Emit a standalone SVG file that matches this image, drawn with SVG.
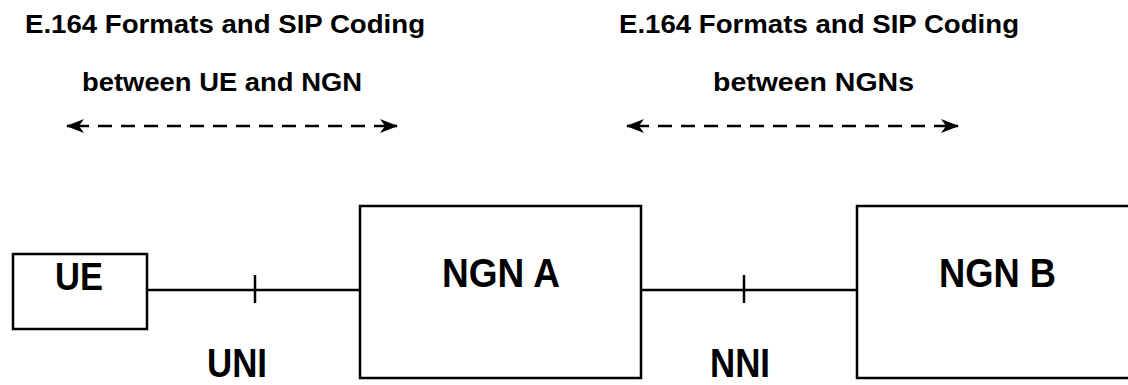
<svg xmlns="http://www.w3.org/2000/svg" width="1128" height="385" viewBox="0 0 1128 385">
<style>
.box{fill:#fff;stroke:#000;stroke-width:2.5}
.ln{stroke:#000;stroke-width:2.5;fill:none}
.dash{stroke:#000;stroke-width:2.5;fill:none;stroke-dasharray:14 9}
.t{font-family:"Liberation Sans",Arial,sans-serif;font-weight:bold;fill:#000}
.title{font-size:25px}
.lbl{font-size:40px}
</style>
<defs>
<marker id="ah" viewBox="0 0 18 14" refX="17" refY="7" markerWidth="18" markerHeight="14" markerUnits="userSpaceOnUse" orient="auto-start-reverse">
<path d="M0,0 L18,7 L0,14 L5,7 Z" fill="#000"/>
</marker>
</defs>
<g id="titles">
<text class="t title" x="25" y="33" textLength="400" lengthAdjust="spacingAndGlyphs">E.164 Formats and SIP Coding</text>
<text class="t title" x="82" y="91" textLength="280" lengthAdjust="spacingAndGlyphs">between UE and NGN</text>
<text class="t title" x="619" y="33" textLength="400" lengthAdjust="spacingAndGlyphs">E.164 Formats and SIP Coding</text>
<text class="t title" x="713" y="91" textLength="201" lengthAdjust="spacingAndGlyphs">between NGNs</text>
</g>
<g id="connectors">
<line class="dash" x1="75" y1="126" x2="390" y2="126"/>
<path class="ln" d="M67,126 h8" marker-start="url(#ah)"/>
<path class="ln" d="M389,126 h8" marker-end="url(#ah)"/>
<line class="dash" x1="635" y1="126" x2="951" y2="126"/>
<path class="ln" d="M627,126 h8" marker-start="url(#ah)"/>
<path class="ln" d="M950,126 h8" marker-end="url(#ah)"/>
<line class="ln" x1="147" y1="290" x2="360" y2="290"/>
<line class="ln" x1="255" y1="275" x2="255" y2="303"/>
<line class="ln" x1="641" y1="290" x2="857" y2="290"/>
<line class="ln" x1="744" y1="275" x2="744" y2="303"/>
</g>
<g id="UE">
<rect class="box" x="13" y="254" width="134" height="75"/>
<text class="t lbl" x="55" y="290" textLength="48" lengthAdjust="spacingAndGlyphs" style="font-size:38px">UE</text>
</g>
<g id="NGN_A">
<rect class="box" x="360" y="206" width="281" height="172"/>
<text class="t lbl" x="442" y="287" textLength="118" lengthAdjust="spacingAndGlyphs">NGN A</text>
</g>
<g id="NGN_B">
<rect class="box" x="857" y="206" width="290" height="172"/>
<text class="t lbl" x="939" y="287" textLength="117" lengthAdjust="spacingAndGlyphs">NGN B</text>
</g>
<g id="UNI">
<text class="t lbl" x="207" y="377" textLength="60" lengthAdjust="spacingAndGlyphs">UNI</text>
</g>
<g id="NNI">
<text class="t lbl" x="710" y="377" textLength="60" lengthAdjust="spacingAndGlyphs">NNI</text>
</g>
</svg>
